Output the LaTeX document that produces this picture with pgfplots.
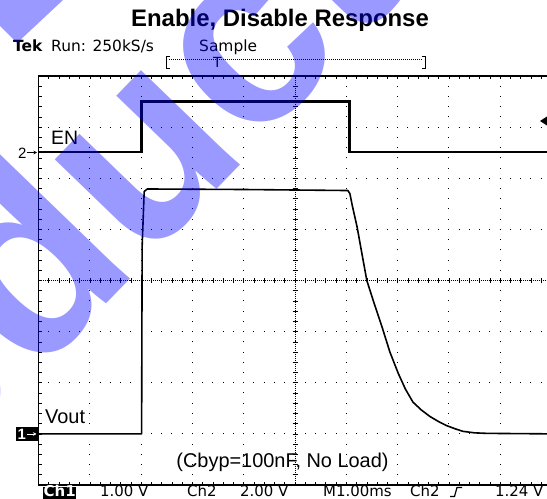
\documentclass[border=0pt]{standalone}
\usepackage{pgfplots}
\pgfplotsset{compat=1.18}
\usetikzlibrary{arrows.meta}
\usepackage{fontspec}
\setmainfont{Liberation Sans}
\newfontfamily\scopefont{DejaVu Sans}
\begin{document}
\begin{tikzpicture}
\useasboundingbox (0,0) rectangle (547bp,499bp);
\begin{scope}
\clip (0,0) rectangle (547bp,499bp);
\begin{axis}[
  at={(38.5bp,14bp)}, anchor=south west, scale only axis,
  width=513bp, height=409bp,
  xmin=0, xmax=10, ymin=-4, ymax=4,
  xtick={0,...,10}, ytick={-4,...,4},
  minor x tick num=4, minor y tick num=4,
  xticklabels={}, yticklabels={},
  tick align=inside, major tick length=3bp, minor tick length=3bp,
  tick style={black, line width=0.6bp},
  grid=major,
  major x grid style={black, line width=1bp, dash pattern=on 1bp off 9.225bp, dash phase=0.5bp},
  major y grid style={black, line width=1bp, dash pattern=on 1bp off 9.26bp, dash phase=0.5bp},
  axis line style={line width=1.2bp},
  clip=false,
]
% centre cross lines
\draw[black, line width=0.7bp, dash pattern=on 0.8bp off 1.2bp] (axis cs:5,-4) -- (axis cs:5,4);
\draw[black, line width=0.7bp, dash pattern=on 0.8bp off 1.2bp] (axis cs:0,0) -- (axis cs:10,0);
\pgfplotsinvokeforeach{-20,...,20}{
  \draw[black, line width=0.6bp] ([xshift=-2.5bp]axis cs:5,#1/5) -- ([xshift=2.5bp]axis cs:5,#1/5);
}
\pgfplotsinvokeforeach{0,...,50}{
  \draw[black, line width=0.6bp] ([yshift=-2.5bp]axis cs:#1/5,0) -- ([yshift=2.5bp]axis cs:#1/5,0);
}
% EN (Ch2)
\addplot[black, line width=2.3bp, line join=miter] coordinates {
 (0,2.51) (2.01,2.51) (2.01,3.50) (6.06,3.50) (6.06,2.51) (10,2.51)};
% Vout (Ch1)
\addplot[black, line width=1.6bp, line join=round] coordinates {
 (0,-3.00) (2.01,-3.00) (2.02,0.66) (2.06,1.74) (2.12,1.79) (4.0,1.78) (6.03,1.76)
 (6.07,1.70) (6.12,1.45) (6.21,1.05) (6.30,0.55) (6.40,0.0) (6.55,-0.47) (6.70,-0.92)
 (6.85,-1.40) (7.01,-1.81) (7.15,-2.12) (7.30,-2.38) (7.46,-2.53) (7.63,-2.66)
 (7.80,-2.76) (7.96,-2.84) (8.12,-2.90) (8.27,-2.95) (8.50,-2.98) (8.74,-2.99) (10,-3.00)};
\end{axis}
\begin{scope}[x=1bp,y=1bp]
% title
\node[anchor=base, inner sep=0, font=\fontsize{24}{24}\selectfont\bfseries] at (280,472.3) {Enable, Disable Response};
% header
\node[anchor=base west, inner sep=0, font=\fontsize{15.5}{15.5}\selectfont\scopefont\bfseries] at (13,447.3) {Tek};
\node[anchor=base west, inner sep=0, font=\fontsize{15.5}{15.5}\selectfont\scopefont] at (51,447.3) {Run: 250kS/s};
\node[anchor=base west, inner sep=0, font=\fontsize{15.5}{15.5}\selectfont\scopefont] at (199,447.3) {Sample};
% trigger position bracket
\draw[line width=1bp] (169.5,442) -- (166.5,442) -- (166.5,430.5) -- (169.5,430.5);
\draw[line width=1bp] (422,442) -- (425,442) -- (425,430.5) -- (422,430.5);
\draw[line width=0.8bp, dash pattern=on 0.8bp off 1.2bp] (169,439.5) -- (422,439.5);
\node[anchor=base, inner sep=0, font=\fontsize{14}{14}\selectfont\scopefont] at (217.5,431) {T};
% trace labels
\node[anchor=base west, inner sep=0, font=\fontsize{19.5}{19.5}\selectfont] at (51,355) {EN};
\node[anchor=base west, inner sep=0, font=\fontsize{20}{20}\selectfont] at (45,76) {Vout};
\node[anchor=base, inner sep=0, font=\fontsize{20}{20}\selectfont] at (282.5,32) {(Cbyp=100nF, No Load)};
% channel ground markers
\node[anchor=base west, inner sep=0, font=\fontsize{15}{15}\selectfont] at (18,341) {2};
\draw[line width=0.8bp, -{Stealth[length=3.5bp,width=3.5bp]}] (27,346.5) -- (37,346.5);
\fill[black] (16,58) rectangle (38,72);
\node[anchor=base west, inner sep=0, text=white, font=\fontsize{15}{15}\selectfont\bfseries] at (17.5,59.5) {1};
\draw[white, line width=0.8bp, -{Stealth[length=3.5bp,width=3.5bp]}] (26.5,65) -- (36.5,65);
% trigger level marker
\fill[black] (540,378) -- (547,382.5) -- (547,373.5) -- cycle;
% bottom status line
\fill[black] (42.5,0) rectangle (75.5,12.5);
\node[anchor=base west, inner sep=0, text=white, font=\fontsize{15}{15}\selectfont\scopefont\bfseries] at (43.5,2.5) {Ch1};
\node[anchor=base west, inner sep=0, font=\fontsize{15}{15}\selectfont\scopefont] at (100,2.5) {1.00 V};
\node[anchor=base west, inner sep=0, font=\fontsize{15}{15}\selectfont\scopefont] at (187,2.5) {Ch2};
\node[anchor=base west, inner sep=0, font=\fontsize{15}{15}\selectfont\scopefont] at (240,2.5) {2.00 V};
\node[anchor=base west, inner sep=0, font=\fontsize{15}{15}\selectfont\scopefont] at (323,2.5) {M1.00ms};
\node[anchor=base west, inner sep=0, font=\fontsize{15}{15}\selectfont\scopefont] at (410,2.5) {Ch2};
\draw[line width=1.2bp] (450,2.5) -- (454.5,2.5) -- (457,11.5) -- (462,11.5);
\node[anchor=base west, inner sep=0, font=\fontsize{15}{15}\selectfont\scopefont] at (495,2.5) {1.24 V};
% watermark
\fill[blue, fill opacity=0.4] (0,499) -- (63,499) -- (17,456) -- (0,473) -- cycle;
\node[rotate=46, anchor=base west, inner sep=0, text=blue, text opacity=0.4,
      font=\fontsize{260}{260}\selectfont\bfseries] at (-268,-192) {Product};
\end{scope}
\end{scope}
\end{tikzpicture}
\end{document}
